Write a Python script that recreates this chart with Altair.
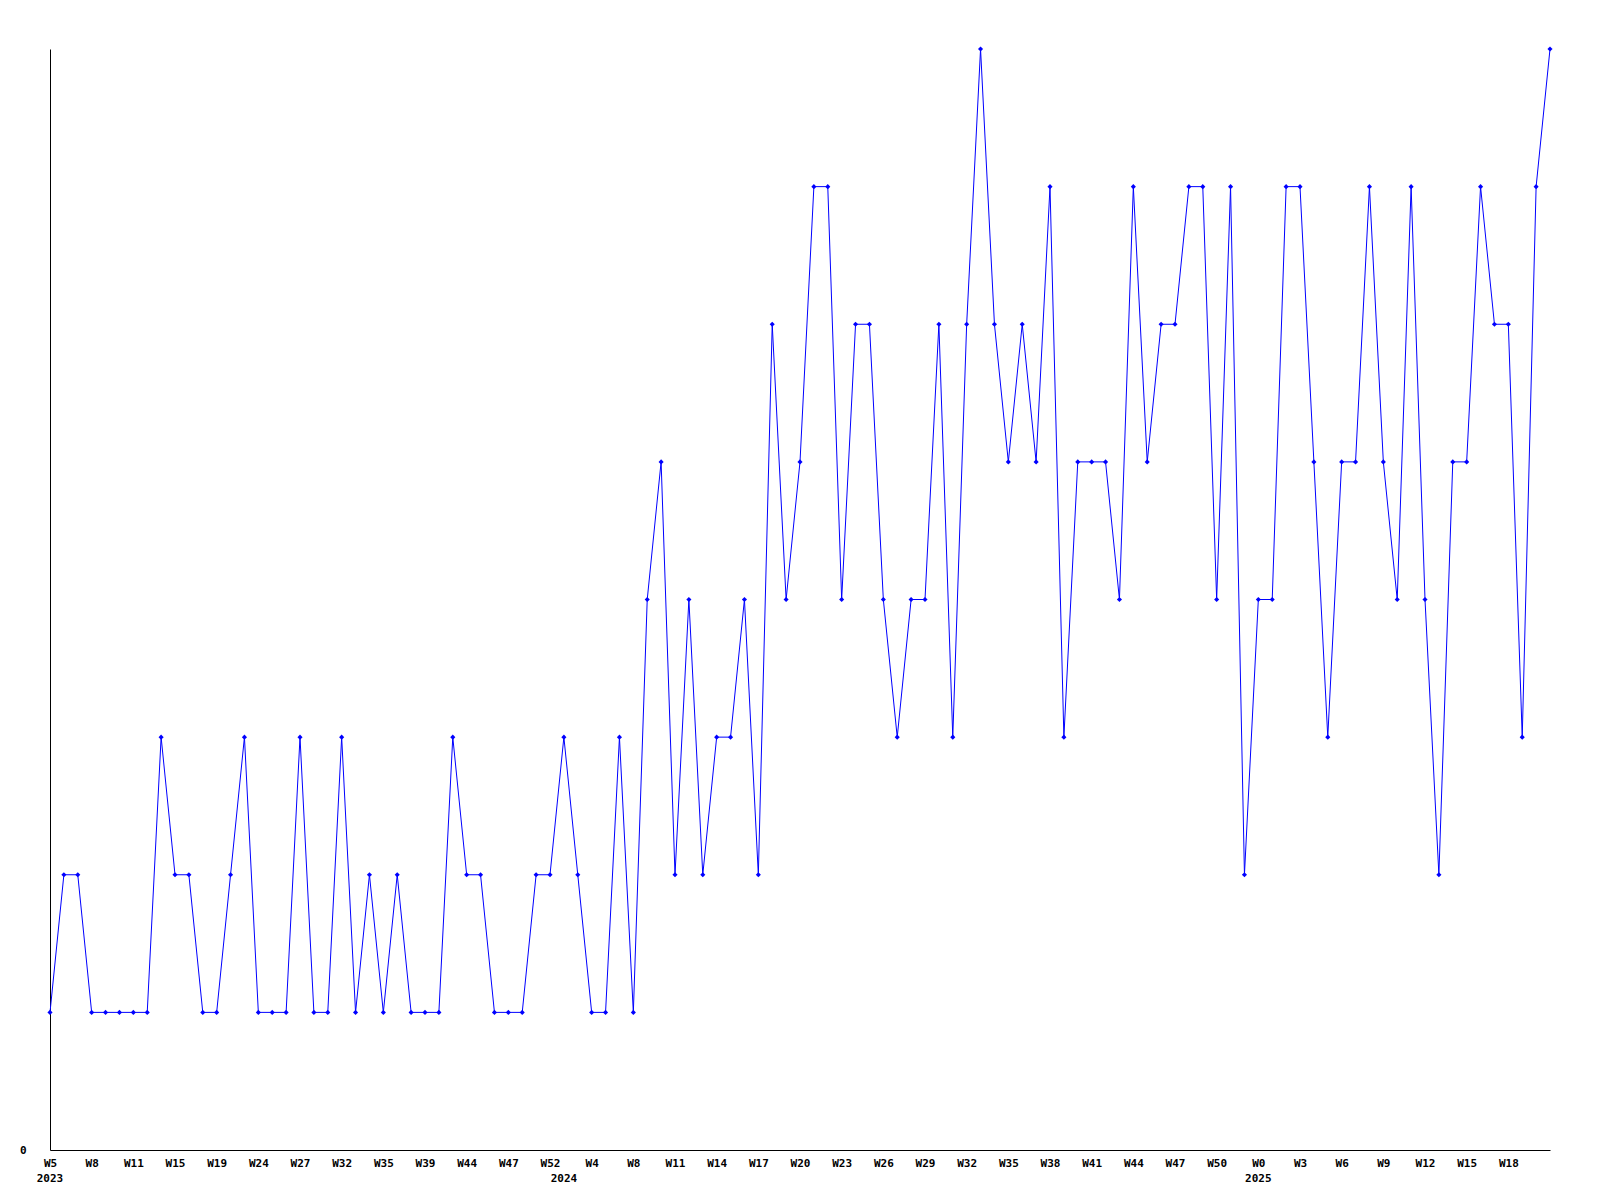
import altair as alt
import pandas as pd

# Weekly values, one per point (index 0..108)
values = [
    1, 2, 2, 1, 1, 1, 1, 1, 3, 2,
    2, 1, 1, 2, 3, 1, 1, 1, 3, 1,
    1, 3, 1, 2, 1, 2, 1, 1, 1, 3,
    2, 2, 1, 1, 1, 2, 2, 3, 2, 1,
    1, 3, 1, 4, 5, 2, 4, 2, 3, 3,
    4, 2, 6, 4, 5, 7, 7, 4, 6, 6,
    4, 3, 4, 4, 6, 3, 6, 8, 6, 5,
    6, 5, 7, 3, 5, 5, 5, 4, 7, 5,
    6, 6, 7, 7, 4, 7, 2, 4, 4, 7,
    7, 5, 3, 5, 5, 7, 5, 4, 7, 4,
    2, 5, 5, 7, 6, 6, 3, 7, 8,
]

# Tick labels shown every third point
tick_labels = [
    "W5", "W8", "W11", "W15", "W19", "W24", "W27", "W32", "W35", "W39",
    "W44", "W47", "W52", "W4", "W8", "W11", "W14", "W17", "W20", "W23",
    "W26", "W29", "W32", "W35", "W38", "W41", "W44", "W47", "W50", "W0",
    "W3", "W6", "W9", "W12", "W15", "W18",
]
tick_step = 3

# Year labels and the point index they sit under
years = ["2023", "2024", "2025"]
year_index = [0, 37, 87]

df = pd.DataFrame({"i": list(range(len(values))), "v": values})
ydf = pd.DataFrame({"i": year_index, "year": years})

W, H = 1500, 1101
FONT = "DejaVu Sans Mono"

label_arr = "[" + ",".join("'%s'" % t for t in tick_labels) + "]"
tick_vals = [k * tick_step for k in range(len(tick_labels))]

x_scale = alt.Scale(domain=[0, len(values) - 1], nice=False, zero=False)
y_scale = alt.Scale(domain=[0, 8], nice=False)

x_enc = alt.X(
    "i:Q",
    scale=x_scale,
    axis=alt.Axis(
        title=None,
        values=tick_vals,
        labelExpr=label_arr + "[round(datum.value/3)]",
        ticks=False,
        grid=False,
        domainColor="black",
        labelFont=FONT,
        labelFontWeight="bold",
        labelFontSize=11,
        labelColor="black",
        labelPadding=7,
        labelAngle=0,
        labelFlush=False,
        labelOverlap=False,
    ),
)
y_enc = alt.Y(
    "v:Q",
    scale=y_scale,
    axis=alt.Axis(
        title=None,
        values=[0],
        format="d",
        ticks=False,
        grid=False,
        domainColor="black",
        labelFont=FONT,
        labelFontWeight="bold",
        labelFontSize=11,
        labelColor="black",
        labelPadding=24,
        labelBaseline="middle",
    ),
)

line = alt.Chart(df).mark_line(color="#0000FF", strokeWidth=1).encode(x=x_enc, y=y_enc)
pts = alt.Chart(df).mark_point(
    color="#0000FF", filled=True, shape="diamond", size=26, opacity=1
).encode(x=alt.X("i:Q", scale=x_scale), y=alt.Y("v:Q", scale=y_scale))

yr = alt.Chart(ydf).mark_text(
    font=FONT, fontWeight="bold", fontSize=11, color="black", baseline="top", align="center"
).encode(
    x=alt.X("i:Q", scale=x_scale),
    y=alt.value(H + 23),
    text="year:N",
)

chart = (
    alt.layer(line, pts, yr)
    .properties(
        width=W,
        height=H,
        autosize=alt.AutoSizeParams(type="none"),
        padding={"left": 42, "top": 41, "right": 40, "bottom": 45},
        background="white",
    )
    .configure_view(stroke=None)
)

chart.save("out.html", embed_options={"renderer": "svg", "actions": False})
